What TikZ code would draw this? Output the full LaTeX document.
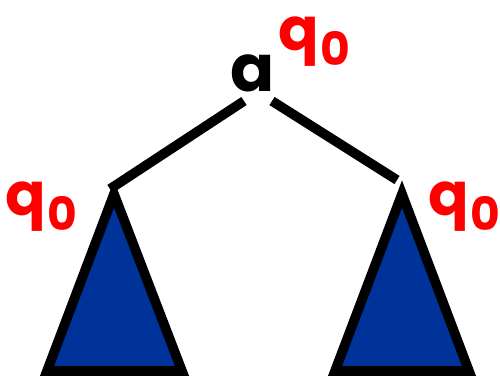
\documentclass[tikz,border=0pt]{standalone}
\usepackage{fontspec}
\setmainfont{Poppins}
\definecolor{treeblue}{RGB}{0,51,153}
\definecolor{statered}{RGB}{255,0,0}
\begin{document}
\begin{tikzpicture}[x=0.02cm,y=-0.02cm,
  edge/.style={line width=5.5pt},
  subtree/.style={draw=black,fill=treeblue,line width=5.5pt,line join=miter},
  lbl/.style={inner sep=0pt,anchor=base west,text=statered,font=\bfseries\fontsize{34}{34}\selectfont},
  sym/.style={inner sep=0pt,font=\bfseries\fontsize{37}{37}\selectfont}]
\useasboundingbox (0,0) rectangle (500,379);
% root symbol
\node[sym,anchor=base] (a) at (253,91) {a};
% state labels
\newcommand{\qz}{q\kern1pt{\fontsize{26}{26}\selectfont\raisebox{-9pt}{0}}}
\node[lbl] (qtop) at (278,50) {\qz};
\node[lbl] (qleft) at (5,215) {\qz};
\node[lbl] (qright) at (428,215) {\qz};
% subtrees
\coordinate (lapex) at (114,194);
\coordinate (rapex) at (402,194);
\draw[subtree] (lapex) -- (182,371) -- (47,371) -- cycle;
\draw[subtree] (rapex) -- (469,371) -- (335,371) -- cycle;
% edges
\coordinate (le) at (244,101);
\coordinate (re) at (272,101);
\coordinate (lt) at (110,189);
\coordinate (rt) at (397,180);
\draw[edge] (le) -- (lt);
\draw[edge] (re) -- (rt);
\end{tikzpicture}
\end{document}
